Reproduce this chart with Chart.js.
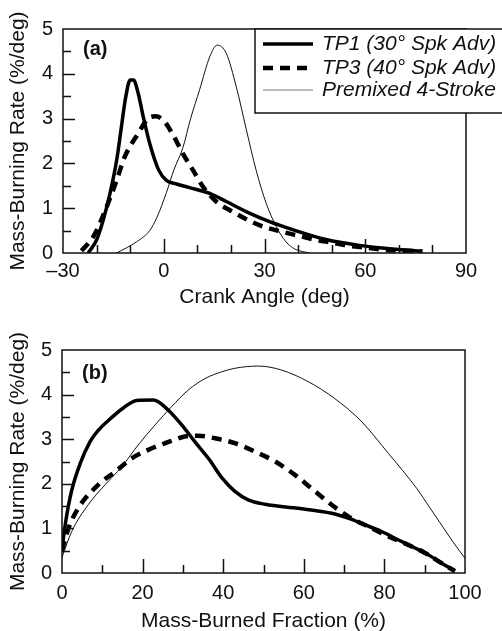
<!DOCTYPE html>
<html lang="en">
<head>
<meta charset="UTF-8">
<title>Mass-Burning Rate</title>
<script src="https://cdn.jsdelivr.net/npm/chart.js"></script>
<style>
  body { margin: 0; background: #fff; }
  .panel { position: absolute; left: 0; width: 502px; }
  #pa { top: 0; height: 310px; }
  #pb { top: 310px; height: 321px; }
</style>
</head>
<body>
<div class="panel" id="pa"><canvas id="chartA"></canvas></div>
<div class="panel" id="pb"><canvas id="chartB"></canvas></div>
<script>
// (a) burning rate against crank angle
const seriesNames = ['TP1 (30° Spk Adv)', 'TP3 (40° Spk Adv)', 'Premixed 4-Stroke'];

const angleTP1 = [-22.5, -20, -18, -16, -14, -12.6, -11.3, -10, -9, -7.6, -6.1, -4.2, -1.5, 0.8, 3.8, 7.7, 13.7, 18.6, 25.5, 31.5, 38.4, 48.3, 58.2, 68, 77];
const rateTP1 = [0, 0.29, 0.74, 1.33, 2.08, 2.82, 3.49, 3.86, 3.86, 3.56, 3.04, 2.45, 1.85, 1.62, 1.54, 1.46, 1.33, 1.15, 0.89, 0.70, 0.52, 0.30, 0.17, 0.09, 0.04];

const angleTP3 = [-24.5, -21, -17, -14, -11.6, -7.6, -4.7, -2.5, -0.2, 2.8, 5.7, 8.7, 11.7, 15.6, 20.6, 25.5, 30, 35.4, 40.4, 45.4, 50.3, 55.2, 60.2, 66, 72, 77];
const rateTP3 = [0.05, 0.36, 1.03, 1.63, 2.15, 2.67, 3.0, 3.05, 2.97, 2.63, 2.22, 1.85, 1.48, 1.15, 0.92, 0.72, 0.58, 0.47, 0.38, 0.29, 0.23, 0.16, 0.12, 0.07, 0.05, 0.04];

const anglePremix = [-14, -8.1, -4.2, -2, 0.8, 3, 5.7, 8, 10.7, 13.7, 15.9, 18.6, 21.6, 24.6, 27.5, 30.5, 33.5, 36.4, 39, 43.4];
const ratePremix = [0, 0.25, 0.5, 0.8, 1.35, 1.85, 2.35, 3.0, 3.65, 4.38, 4.64, 4.46, 3.71, 2.75, 1.85, 1.11, 0.59, 0.25, 0.09, 0];

// (b) burning rate against mass-burned fraction
const fracTP1 = [0, 1, 2.4, 4.5, 7, 9, 11.5, 15.2, 18.5, 22.7, 26.4, 29.7, 33, 36.5, 39.8, 42.9, 46.2, 50.4, 58.6, 66.9, 71, 75.2, 79.3, 83.5, 87.6, 90.9, 94.2, 97.5];
const burnTP1 = [0.55, 1.2, 1.85, 2.45, 2.95, 3.2, 3.42, 3.7, 3.87, 3.88, 3.65, 3.32, 2.94, 2.55, 2.12, 1.83, 1.64, 1.54, 1.45, 1.34, 1.23, 1.08, 0.93, 0.74, 0.56, 0.41, 0.22, 0.05];

const fracTP3 = [0, 1.6, 4, 9.4, 13.2, 17.3, 21.4, 25.6, 30.5, 33.8, 38, 42.9, 47.9, 52.9, 57.8, 62.8, 66.9, 71, 76, 81, 85.9, 90.1, 94.2, 97.5];
const burnTP3 = [0.5, 1.0, 1.45, 2.01, 2.27, 2.57, 2.76, 2.91, 3.06, 3.08, 3.02, 2.91, 2.72, 2.5, 2.2, 1.83, 1.53, 1.27, 1.04, 0.82, 0.63, 0.45, 0.22, 0.04];

const fracPremix = [0, 2.4, 6.5, 10.7, 14.8, 18.9, 23.1, 27.2, 31.3, 35.5, 39.6, 42.9, 48.7, 54.5, 61.1, 67.7, 74.4, 81, 84.5, 88, 91, 94, 97, 100];
const burnPremix = [0.35, 0.93, 1.53, 1.98, 2.38, 2.87, 3.32, 3.73, 4.1, 4.36, 4.51, 4.59, 4.64, 4.55, 4.29, 3.91, 3.39, 2.68, 2.3, 1.9, 1.5, 1.1, 0.7, 0.33];

// axis labels
const angleTicks = [-30, 0, 30, 60, 90];
const fracTicks = [0, 20, 40, 60, 80, 100];
const rateTicks = [0, 1, 2, 3, 4, 5];

const FONT = '"Liberation Sans", Arial, Helvetica, sans-serif';
Chart.defaults.font.family = FONT;
Chart.defaults.font.size = 20;
Chart.defaults.color = '#111';

function pts(xs, ys) {
  return xs.map((x, i) => ({ x: x, y: ys[i] }));
}

function makeSets(x1, y1, x3, y3, xp, yp) {
  const common = { borderColor: '#000', pointRadius: 0, fill: false, cubicInterpolationMode: 'monotone' };
  return [
    Object.assign({}, common, { label: seriesNames[0], data: pts(x1, y1), borderWidth: 3.5 }),
    Object.assign({}, common, { label: seriesNames[1], data: pts(x3, y3), borderWidth: 4.5, borderDash: [10, 7] }),
    Object.assign({}, common, { label: seriesNames[2], data: pts(xp, yp), borderWidth: 1, borderColor: '#111' }),
  ];
}

// box around the plot, inward ticks and the panel tag
function makeFrame(tag, tagDy, xLabels) {
  return {
    id: 'frame',
    afterDatasetsDraw(chart) {
      const { ctx, chartArea: a, scales: { x, y } } = chart;
      ctx.save();
      ctx.setLineDash([]);
      ctx.strokeStyle = '#111';
      ctx.lineWidth = 1.5;
      ctx.beginPath();
      for (let v = x.min + 10; v < x.max - 1e-6; v += 10) {
        const px = Math.round(x.getPixelForValue(v)) + 0.5;
        const len = xLabels.includes(v) ? 14 : 8;
        ctx.moveTo(px, a.bottom);
        ctx.lineTo(px, a.bottom - len);
      }
      for (let v = 0.5; v < 5 - 1e-6; v += 0.5) {
        const py = Math.round(y.getPixelForValue(v)) + 0.5;
        const len = rateTicks.includes(v) ? 12 : 8;
        ctx.moveTo(a.left, py);
        ctx.lineTo(a.left + len, py);
      }
      ctx.stroke();
      ctx.strokeRect(a.left, a.top, a.right - a.left, a.bottom - a.top);
      ctx.fillStyle = '#111';
      ctx.font = 'bold 20px ' + FONT;
      ctx.textBaseline = 'middle';
      ctx.textAlign = 'left';
      ctx.fillText(tag, a.left + 20, a.top + tagDy);
      ctx.restore();
    }
  };
}

// legend box in the upper right of panel (a)
const boxLegend = {
  id: 'boxLegend',
  afterDraw(chart) {
    const { ctx, chartArea: a } = chart;
    const left = 255, top = a.top, bottom = 113;
    ctx.save();
    ctx.fillStyle = '#fff';
    ctx.fillRect(left, top, chart.width - left + 5, bottom - top);
    ctx.strokeStyle = '#111';
    ctx.lineWidth = 1.5;
    ctx.strokeRect(left, top, chart.width - left + 5, bottom - top);
    const rows = [44, 68, 90];
    ctx.font = 'italic 21px ' + FONT;
    ctx.textBaseline = 'middle';
    ctx.fillStyle = '#111';
    chart.data.datasets.forEach((ds, i) => {
      ctx.beginPath();
      ctx.lineWidth = ds.borderWidth;
      ctx.strokeStyle = i === 2 ? '#777' : '#000';
      ctx.setLineDash(ds.borderDash || []);
      ctx.moveTo(263, rows[i]);
      ctx.lineTo(313, rows[i]);
      ctx.stroke();
      ctx.setLineDash([]);
      ctx.fillText(ds.label, 322, rows[i]);
    });
    ctx.restore();
  }
};

function makeChart(id, datasets, xCfg, pad, tag, tagDy, legend) {
  const frame = makeFrame(tag, tagDy, xCfg.labels);
  return new Chart(document.getElementById(id), {
    type: 'line',
    data: { datasets: datasets },
    plugins: legend ? [frame, boxLegend] : [frame],
    options: {
      responsive: true,
      maintainAspectRatio: false,
      animation: false,
      devicePixelRatio: 1,
      layout: { padding: pad.layout },
      plugins: {
        legend: { display: false },
        tooltip: { enabled: false }
      },
      scales: {
        x: {
          type: 'linear',
          min: xCfg.min,
          max: xCfg.max,
          grid: { display: false, drawTicks: false },
          border: { display: false },
          ticks: {
            stepSize: 10,
            autoSkip: false,
            maxRotation: 0,
            padding: pad.tickPad,
            font: { size: 20 },
            callback: v => xCfg.labels.includes(v) ? (v < 0 ? '\u2013' + Math.abs(v) : String(v)) : ''
          },
          title: { display: true, text: xCfg.title, font: { size: 21 }, padding: { top: 0, bottom: pad.titleBottom } },
          afterFit: s => { s.height = pad.xHeight; }
        },
        y: {
          min: 0,
          max: 5,
          grid: { display: false, drawTicks: false },
          border: { display: false },
          ticks: {
            stepSize: 0.5,
            autoSkip: false,
            padding: 10,
            font: { size: 20 },
            callback: v => rateTicks.includes(v) ? String(v) : ''
          },
          title: { display: true, text: 'Mass-Burning Rate (%/deg)', font: { size: 21 }, padding: { top: 6, bottom: 0 } },
          afterFit: s => { s.width = pad.yWidth; }
        }
      }
    }
  });
}

makeChart('chartA',
  makeSets(angleTP1, rateTP1, angleTP3, rateTP3, anglePremix, ratePremix),
  { min: -30, max: 90, labels: angleTicks, title: 'Crank Angle (deg)' },
  { layout: { top: 29, right: 36, left: 0, bottom: 0 }, xHeight: 57, yWidth: 63, titleBottom: 0, tickPad: 6 },
  '(a)', 20, true);

makeChart('chartB',
  makeSets(fracTP1, burnTP1, fracTP3, burnTP3, fracPremix, burnPremix),
  { min: 0, max: 100, labels: fracTicks, title: 'Mass-Burned Fraction (%)' },
  { layout: { top: 40, right: 37, left: 0, bottom: 0 }, xHeight: 58, yWidth: 62, titleBottom: -3, tickPad: 8 },
  '(b)', 23, false);
</script>
</body>
</html>
